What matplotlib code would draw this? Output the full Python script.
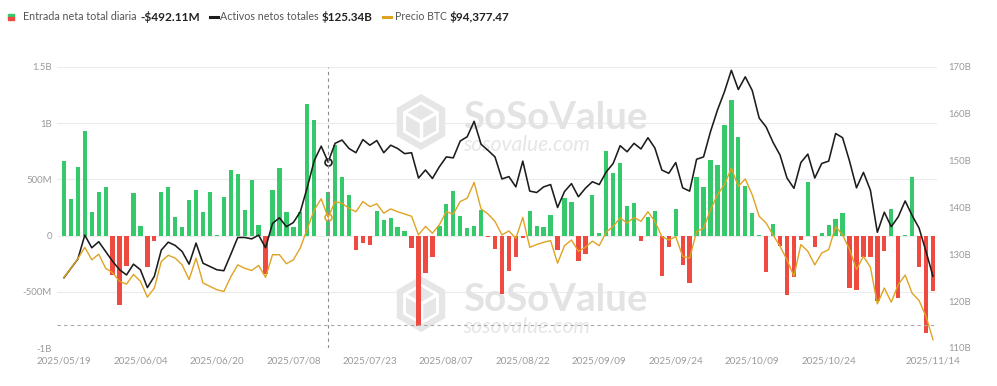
"""Bitcoin spot ETF daily net inflow chart (SoSoValue style)."""
import matplotlib
matplotlib.use("Agg")
import matplotlib.pyplot as plt
from matplotlib.patches import Rectangle, RegularPolygon
from matplotlib.transforms import IdentityTransform
import numpy as np
import pandas as pd

plt.rcParams["font.family"] = ["Lato", "DejaVu Sans"]

W, H = 997, 386
GREEN = "#36c96b"
RED = "#ee4a40"
BLACK = "#1c1c1c"
ORANGE = "#dfa322"
TICK = "#9a9a9a"

HOLIDAYS = ["2025-05-26", "2025-06-19", "2025-07-04", "2025-09-01"]
dates = [d for d in pd.bdate_range("2025-05-19", "2025-11-14")
         if d.strftime("%Y-%m-%d") not in HOLIDAYS]

# daily total net inflow, $M
inflow_m = [
    667, 329, 607, 935, 211, 385, 433, -350, -616, -268,
    380, 87, -278, -47, 386, 431, 165, 80, 320, 406,
    213, 391, 6, 346, 583, 545, 228, 494, 95, -342,
    403, 598, 213, 80, 213, 1175, 1027, 0, 391, 805,
    520, 358, -127, -68, -83, 219, 135, 154, 74, 40,
    -112, -808, -330, -192, 88, 277, 400, 175, 65, 85,
    227, -14, -121, -521, -312, -192, -20, 219, 88, 75,
    179, -127, 332, 302, -227, -160, 365, 23, 757, 553,
    642, 260, 292, -51, 163, 223, -363, -104, 241, -258,
    -418, 522, 430, 676, 627, 985, 1205, 875, 441, 198,
    4, -326, 102, -94, -531, -367, -40, 477, -101, 20,
    90, 149, 202, -470, -488, -191, -187, -578, -137, 240,
    -558, 1, 524, -278, -867, -492.11,
]

# total net assets, $B
assets_b = [
    125.0, 127.0, 129.0, 134.1, 131.4, 132.7, 130.6, 128.5, 126.7, 125.6,
    127.9, 126.7, 122.9, 125.3, 130.9, 132.6, 131.9, 130.6, 127.9, 132.4,
    128.1, 127.4, 126.7, 126.5, 130.0, 133.6, 133.6, 133.3, 134.1, 131.4,
    136.6, 137.8, 135.9, 136.8, 139.1, 144.3, 150.0, 153.1, 149.7, 153.7,
    154.4, 152.6, 151.7, 154.5, 153.3, 154.3, 151.7, 153.3, 152.6, 151.5,
    151.7, 146.3, 148.0, 146.2, 148.7, 150.8, 150.6, 154.2, 155.1, 158.4,
    153.5, 152.2, 150.8, 146.1, 146.6, 144.4, 149.9, 143.5, 143.2, 144.4,
    144.9, 140.0, 143.4, 145.1, 142.3, 144.1, 145.5, 144.9, 147.6, 149.4,
    153.2, 151.9, 153.7, 152.5, 154.9, 152.7, 148.0, 147.3, 149.6, 144.2,
    143.5, 150.3, 150.8, 156.2, 160.8, 164.7, 169.3, 165.2, 167.9, 165.0,
    159.1, 157.2, 153.9, 151.2, 146.3, 144.1, 149.6, 151.4, 146.3, 149.4,
    149.9, 155.8, 154.9, 149.9, 144.2, 147.5, 143.7, 134.7, 139.0, 135.9,
    138.0, 141.4, 138.3, 135.6, 130.6, 125.34,
]

# BTC price, $K
btc_k = [
    105.4, 107.0, 108.7, 110.7, 108.5, 109.5, 107.0, 106.2, 104.7, 104.2,
    105.9, 104.7, 101.9, 103.5, 108.2, 109.3, 108.8, 107.6, 105.0, 108.8,
    104.4, 103.8, 103.2, 102.9, 105.5, 107.6, 107.0, 106.6, 107.5, 105.4,
    109.4, 109.4, 107.8, 108.5, 110.6, 114.0, 117.3, 119.3, 116.0, 118.8,
    118.5, 117.6, 117.0, 118.8, 117.9, 118.4, 116.75, 117.5, 117.0, 116.6,
    116.2, 112.9, 114.4, 113.2, 114.7, 117.0, 116.6, 118.8, 119.4, 122.2,
    117.5, 116.6, 115.3, 112.9, 113.6, 112.3, 116.0, 110.7, 111.2, 111.6,
    111.9, 107.9, 111.0, 112.0, 110.0, 110.7, 111.8, 111.0, 113.4, 114.4,
    115.9, 115.0, 116.0, 115.3, 117.0, 115.3, 112.6, 112.0, 112.6, 109.1,
    108.8, 113.5, 114.1, 117.3, 120.0, 121.8, 124.7, 121.5, 122.8, 120.0,
    116.2, 115.0, 112.9, 110.9, 108.5, 105.6, 111.2, 110.0, 107.6, 109.7,
    110.3, 114.4, 112.9, 110.3, 106.8, 109.1, 107.2, 100.7, 103.5, 101.0,
    104.1, 105.8, 102.6, 101.3, 98.5, 94.377,
]

label_idx = list(range(0, 111, 11)) + [len(dates) - 1]
left_ticks = [-1000, -500, 0, 500, 1000, 1500]
left_labels = ["-1B", "-500M", "0", "500M", "1B", "1.5B"]
right_ticks = [110, 120, 130, 140, 150, 160, 170]
hover_idx = 38
hover_level_m = -795

legend_parts = [
    ("Entrada neta total diaria", False, 23, 113),
    ("-$492.11M", True, 140, 60),
    ("Activos netos totales", False, 220, 98),
    ("$125.34B", True, 322, 51),
    ("Precio BTC", False, 395, 52),
    ("$94,377.47", True, 450, 60),
]

fig = plt.figure(figsize=(W / 100, H / 100), dpi=100)
renderer = fig.canvas.get_renderer()


def px_box(l, t, r, b):
    return [l / W, 1 - b / H, (r - l) / W, (b - t) / H]


def fit_size(text, width_px, **kw):
    t = fig.text(0, 0, text, fontsize=10, **kw)
    w = t.get_window_extent(renderer=renderer).width
    t.remove()
    return 10 * width_px / w


ax = fig.add_axes(px_box(57, 67, 937, 348))
x = np.arange(len(dates))
colors = [GREEN if v >= 0 else RED for v in inflow_m]
ax.bar(x, inflow_m, width=0.62, color=colors, zorder=2)
ax.axhline(hover_level_m, color="#a8a8a8", lw=0.8, ls=(0, (3, 3)), zorder=3)
ax.set_xlim(-1.0, 125.58)
ax.set_ylim(-1000, 1500)
ax.set_yticks(left_ticks, left_labels)
ax.set_xticks(label_idx, [dates[i].strftime("%Y/%m/%d") for i in label_idx])
ax.grid(axis="y", color="#ececec", lw=0.8)
ax.set_axisbelow(True)
for s in ax.spines.values():
    s.set_visible(False)

tick_fs = fit_size("170B", 23)
x_fs = fit_size("2025/05/19", 55)
ax.tick_params(axis="y", length=0, pad=3.6, labelsize=tick_fs, colors=TICK)
ax.tick_params(axis="x", length=0, pad=6.0, labelsize=x_fs, colors=TICK)

ax2 = ax.twinx()
ax2.plot(x, assets_b, color=BLACK, lw=1.15, zorder=3)
ax2.plot(hover_idx, assets_b[hover_idx], "o", ms=5, mfc="white", mec=BLACK, mew=1.2)
ax2.set_ylim(110, 170)
ax2.set_yticks(right_ticks, [f"{v}B" for v in right_ticks])
ax2.tick_params(axis="y", length=0, pad=7.9, labelsize=tick_fs, colors=TICK)
for s in ax2.spines.values():
    s.set_visible(False)

ax3 = ax.twinx()
ax3.plot(x, btc_k, color=ORANGE, lw=1.0, zorder=3)
ax3.plot(hover_idx, btc_k[hover_idx], "o", ms=5, mfc="white", mec=ORANGE, mew=1.2)
ax3.axvline(hover_idx, color="#8c8c8c", lw=0.8, ls=(0, (3, 3)))
ax3.set_ylim(92.9, 142.6)
ax3.axis("off")

# watermarks (logo drawn in pixel coordinates, origin bottom-left)
wm_big = fit_size("SoSoValue", 185, fontweight="bold")
wm_small = fit_size("sosovalue.com", 127, fontstyle="italic")
px = IdentityTransform()
for cy in (118, 300):
    ax.text(463 / W, 1 - cy / H, "SoSoValue", transform=fig.transFigure,
            fontsize=wm_big, fontweight="bold", color="#e3e3e3",
            va="center", ha="left", zorder=1)
    ax.text(463 / W, 1 - (cy + 27) / H, "sosovalue.com", transform=fig.transFigure,
            fontsize=wm_small, fontstyle="italic", color="#e6e6e6",
            va="center", ha="left", zorder=1)
    lx, ly = 421, H - (cy + 4)
    hexa = RegularPolygon((lx, ly), 6, radius=28, transform=px,
                          facecolor="#e6e6e6", edgecolor="none", zorder=1)
    hexa.set_clip_on(False)
    ax.add_patch(hexa)
    # white cube edges inside the logo
    r = 17
    for ang in (90, 210, 330):
        a = np.deg2rad(ang + 180)
        ax.add_line(plt.Line2D([lx, lx + r * np.cos(a)], [ly, ly + r * np.sin(a)],
                               transform=px, color="white", lw=2.5, zorder=1.1,
                               clip_on=False))
    inner = RegularPolygon((lx, ly), 6, radius=19, transform=px, facecolor="none",
                           edgecolor="white", lw=2.0, zorder=1.1)
    inner.set_clip_on(False)
    ax.add_patch(inner)

# legend row
leg_y = 1 - 17 / H
fig.patches.append(Rectangle((8 / W, 1 - 17 / H), 6 / W, 3 / H,
                             transform=fig.transFigure, color=GREEN))
fig.patches.append(Rectangle((8 / W, 1 - 20 / H), 6 / W, 3 / H,
                             transform=fig.transFigure, color=RED))
fig.add_artist(plt.Line2D([210 / W, 218 / W], [leg_y, leg_y], color=BLACK, lw=2.2))
fig.add_artist(plt.Line2D([383 / W, 391 / W], [leg_y, leg_y], color=ORANGE, lw=2.2))
for text, bold, left, width in legend_parts:
    kw = {"fontweight": "bold"} if bold else {}
    fs = fit_size(text, width, **kw)
    fig.text(left / W, leg_y, text, fontsize=fs, va="center", ha="left",
             color="#222222" if bold else "#555555", **kw)

fig.savefig("out.png", dpi=100)
